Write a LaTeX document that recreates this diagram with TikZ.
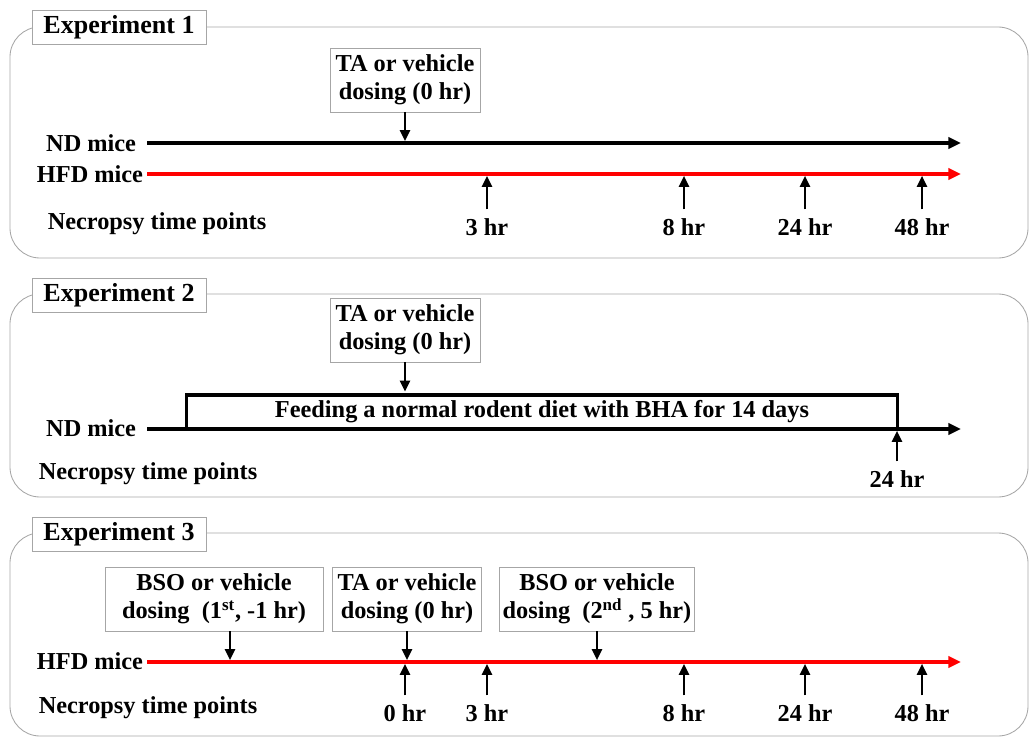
\documentclass[tikz,border=0pt]{standalone}
\usepackage{fontspec}
\setmainfont{Liberation Serif}
\usetikzlibrary{arrows.meta,positioning}

\begin{document}
\begin{tikzpicture}[
    x=0.025cm, y=0.025cm,
    every node/.style={font=\fontsize{17.3}{20}\selectfont\bfseries},
    panel/.style={draw=gray!70, line width=0.6pt, rounded corners=0.75cm},
    title/.style={draw=gray!70, line width=0.6pt, fill=white, minimum width=4.35cm, minimum height=0.85cm, inner sep=2pt, font=\fontsize{18.5}{22}\selectfont\bfseries},
    dose/.style={draw=gray!70, line width=0.6pt, fill=white, align=center, minimum height=1.6cm, inner sep=2pt},
    timeline/.style={line width=2.2pt, -{Triangle[length=9pt, width=8pt]}},
    arrow/.style={line width=2pt, shorten >=1.2pt, -{Triangle[length=8pt, width=7pt]}}
]
\useasboundingbox (0,0) rectangle (1029,738);

% Experiment 1
\draw[panel] (10,480) rectangle (1028,711);
\node[title] (exp1_title) at (119,711) {Experiment 1};
\coordinate (nd1_start) at (147,595);
\coordinate (nd1_end) at (961,595);
\coordinate (hfd1_start) at (147,564);
\coordinate (hfd1_end) at (961,564);
\node[anchor=east] (nd1_label) at (141,595) {ND mice};
\node[anchor=east] (hfd1_label) at (148,564) {HFD mice};
\node (necropsy1) at (157,514) {Necropsy time points};
\draw[timeline] (nd1_start) -- (nd1_end);
\draw[timeline, red] (hfd1_start) -- (hfd1_end);
\node[dose, minimum width=3.75cm] (ta1) at (405,658) {TA or vehicle\\dosing (0 hr)};
\draw[arrow] (ta1.south) -- (ta1.south |- nd1_start);
\foreach \tp/\xp in {3/487, 8/684, 24/805, 48/922} {
    \node (necropsy1_\tp) at (\xp,511) {\tp\ hr};
    \draw[arrow] ([yshift=3pt]necropsy1_\tp.north) -- (necropsy1_\tp |- hfd1_start);
}

% Experiment 2
\draw[panel] (10,241) rectangle (1028,444);
\node[title] (exp2_title) at (119,443) {Experiment 2};
\coordinate (nd2_start) at (147,309);
\coordinate (nd2_end) at (961,309);
\node[anchor=east] (nd2_label) at (141,310) {ND mice};
\node (necropsy2) at (148,264) {Necropsy time points};
\node[draw, line width=2.2pt, minimum width=17.75cm, minimum height=0.85cm, inner sep=0pt] (feed) at (542,326) {Feeding a normal rodent diet with BHA for 14 days};
\draw[timeline] (nd2_start) -- (nd2_end);
\node[dose, minimum width=3.75cm] (ta2) at (405,408) {TA or vehicle\\dosing (0 hr)};
\draw[arrow] (ta2.south) -- (ta2.south |- feed.north);
\node (necropsy2_24) at (897,259) {24 hr};
\draw[arrow] ([yshift=3pt]necropsy2_24.north) -- (necropsy2_24 |- nd2_start);

% Experiment 3
\draw[panel] (10,2) rectangle (1028,205);
\node[title] (exp3_title) at (119,204) {Experiment 3};
\coordinate (hfd3_start) at (147,76);
\coordinate (hfd3_end) at (961,76);
\node[anchor=east] (hfd3_label) at (148,77) {HFD mice};
\node (necropsy3) at (148,30) {Necropsy time points};
\draw[timeline, red] (hfd3_start) -- (hfd3_end);
\node[dose, minimum width=5.45cm] (bso1) at (214,139) {BSO or vehicle\\dosing\ \ (1\textsuperscript{st}, -1 hr)};
\node[dose, minimum width=3.725cm] (ta3) at (407,139) {TA or vehicle\\dosing (0 hr)};
\node[dose, minimum width=4.775cm] (bso2) at (597,139) {BSO or vehicle\\dosing\ \ (2\textsuperscript{nd} , 5 hr)};
\draw[arrow] ([xshift=0.4cm]bso1.south) -- ([xshift=0.4cm]bso1.south |- hfd3_start);
\draw[arrow] (ta3.south) -- (ta3.south |- hfd3_start);
\draw[arrow] (bso2.south) -- (bso2.south |- hfd3_start);
\foreach \tp/\xp in {0/405, 3/487, 8/684, 24/805, 48/922} {
    \node (necropsy3_\tp) at (\xp,25) {\tp\ hr};
    \draw[arrow] ([yshift=3pt]necropsy3_\tp.north) -- (necropsy3_\tp |- hfd3_start);
}

\end{tikzpicture}
\end{document}
